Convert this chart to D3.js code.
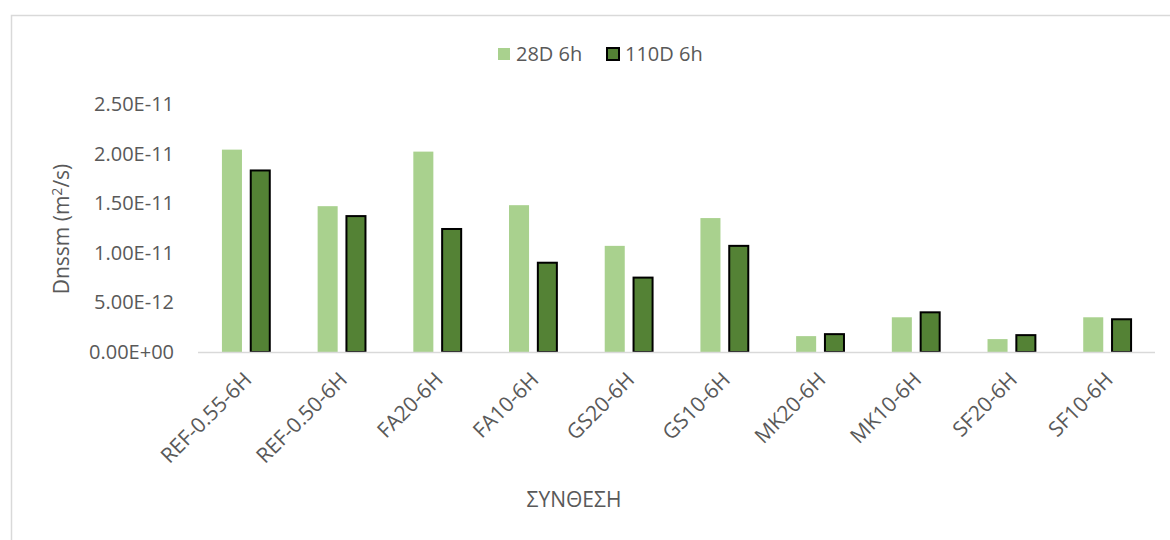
<!DOCTYPE html>
<html>
<head>
<meta charset="utf-8">
<script src="https://cdn.jsdelivr.net/npm/d3@7"></script>
<style>
  body { margin: 0; background: #fff; }
  text { font-family: "Open Sans", "Noto Sans", sans-serif; fill: #595959; }
</style>
</head>
<body>
<div class="chart"></div>
<script>
var categories = ["REF-0.55-6H", "REF-0.50-6H", "FA20-6H", "FA10-6H", "GS20-6H",
                  "GS10-6H", "MK20-6H", "MK10-6H", "SF20-6H", "SF10-6H"];
var series = ["28D 6h", "110D 6h"];
var values28 = [2.04e-11, 1.47e-11, 2.02e-11, 1.48e-11, 1.07e-11,
                1.35e-11, 1.6e-12, 3.5e-12, 1.3e-12, 3.5e-12];
var values110 = [1.83e-11, 1.37e-11, 1.24e-11, 9.0e-12, 7.5e-12,
                 1.07e-11, 1.8e-12, 4.0e-12, 1.7e-12, 3.3e-12];
var yTicks = [0, 5e-12, 1e-11, 1.5e-11, 2e-11, 2.5e-11];

var colors = ["#A9D18E", "#548235"];

var W = 1170, H = 540;
var margin = { top: 104, right: 15, bottom: 188, left: 198 };  // plot area 198..1155, 104..352

var svg = d3.select(".chart").append("svg")
    .attr("width", W)
    .attr("height", H);

// chart frame (only top/left visible in the picture)
svg.append("rect")
    .attr("x", 11.5).attr("y", 15.5)
    .attr("width", W).attr("height", H)
    .attr("fill", "none")
    .attr("stroke", "#d9d9d9")
    .attr("stroke-width", 1.5);

var x0 = d3.scaleBand()
    .domain(categories)
    .range([margin.left, W - margin.right])
    .paddingInner(0.5)
    .paddingOuter(0.25);

var x1 = d3.scaleBand()
    .domain(series)
    .range([0, x0.bandwidth()])
    .paddingInner(0.28);

var y = d3.scaleLinear()
    .domain([0, 2.5e-11])
    .range([H - margin.bottom, margin.top]);

var rows = categories.map(function(c, i) {
    return { cat: c, vals: [values28[i], values110[i]] };
});

// y axis tick labels (no line)
svg.selectAll(".ytick")
    .data(yTicks)
    .enter().append("text")
    .attr("class", "ytick")
    .attr("x", 174)
    .attr("y", function(d) { return y(d); })
    .attr("dy", "0.35em")
    .attr("text-anchor", "end")
    .style("font-size", "20px")
    .text(function(d) {
        var s = d.toExponential(2).toUpperCase();   // e.g. 2.50E-11
        return s.replace(/E([+-])(\d)$/, "E$10$2");
    });

// bars
var groups = svg.selectAll(".grp")
    .data(rows)
    .enter().append("g")
    .attr("class", "grp")
    .attr("transform", function(d) { return "translate(" + x0(d.cat) + ",0)"; });

groups.selectAll("rect")
    .data(function(d) { return d.vals.map(function(v, j) { return { s: series[j], v: v, j: j }; }); })
    .enter().append("rect")
    .attr("x", function(d) { return x1(d.s) + (d.j === 1 ? 1 : 0); })
    .attr("y", function(d) { return y(d.v); })
    .attr("width", function(d) { return x1.bandwidth() - (d.j === 1 ? 1 : 0); })
    .attr("height", function(d) { return y(0) - y(d.v); })
    .attr("fill", function(d) { return colors[d.j]; })
    .attr("stroke", function(d) { return d.j === 1 ? "#000" : "none"; })
    .attr("stroke-width", 2);

// x axis line
svg.append("line")
    .attr("x1", margin.left).attr("x2", W - margin.right)
    .attr("y1", y(0) + 0.5).attr("y2", y(0) + 0.5)
    .attr("stroke", "#d9d9d9")
    .attr("stroke-width", 1.5);

// category labels, rotated
svg.selectAll(".xlab")
    .data(categories)
    .enter().append("text")
    .attr("class", "xlab")
    .attr("text-anchor", "end")
    .style("font-size", "21px")
    .attr("transform", function(d) {
        var cx = x0(d) + x0.bandwidth() / 2 + 7;
        return "translate(" + cx + "," + (y(0) + 29) + ") rotate(-45)";
    })
    .text(function(d) { return d; });

// axis titles
svg.append("text")
    .attr("transform", "translate(69,229) rotate(-90)")
    .attr("text-anchor", "middle")
    .style("font-size", "21px")
    .html('Dnssm (m<tspan dy="-7" style="font-size:14px">2</tspan><tspan dy="7">/s)</tspan>');

svg.append("text")
    .attr("x", 574)
    .attr("y", 507)
    .attr("text-anchor", "middle")
    .style("font-size", "21px")
    .text("ΣΥΝΘΕΣΗ");

// legend
var legend = svg.append("g").attr("transform", "translate(498,54)");
var legX = [0, 109];
series.forEach(function(s, j) {
    var g = legend.append("g").attr("transform", "translate(" + legX[j] + ",0)");
    g.append("rect")
        .attr("x", 0).attr("y", -6)
        .attr("width", 12).attr("height", 12)
        .attr("fill", colors[j])
        .attr("stroke", j === 1 ? "#000" : "none")
        .attr("stroke-width", 2);
    g.append("text")
        .attr("x", 18).attr("y", 0)
        .attr("dy", "0.35em")
        .style("font-size", "20px")
        .text(s);
});
</script>
</body>
</html>
